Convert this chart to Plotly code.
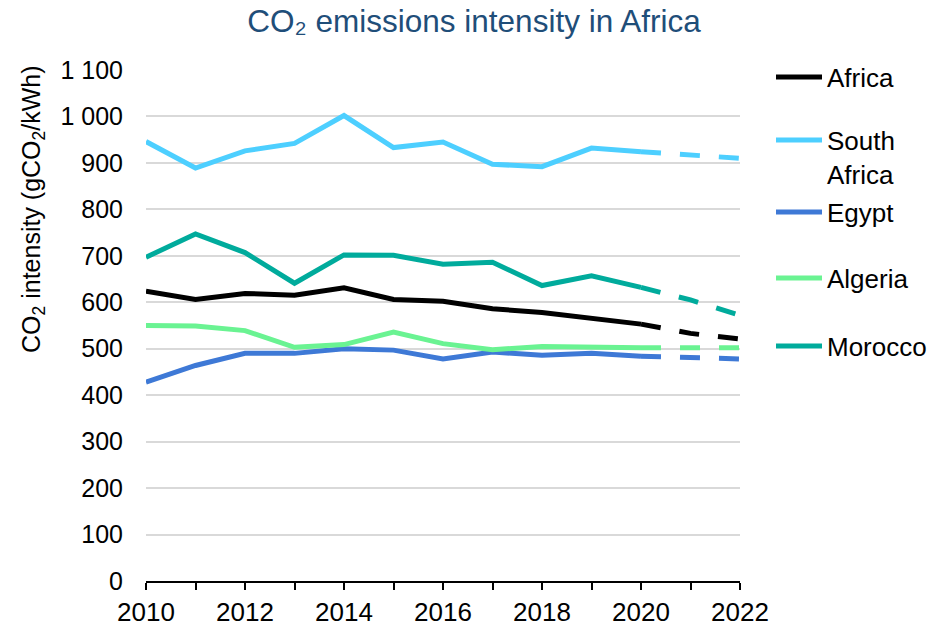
import plotly.graph_objects as go

years_hist = list(range(2010, 2021))
years_proj = [2020, 2021, 2022]
x_tickvals = list(range(2010, 2023))
x_ticktext = ["2010", "", "2012", "", "2014", "", "2016", "", "2018", "", "2020", "", "2022"]

africa = [624, 606, 619, 615, 631, 606, 602, 586, 578, 566, 553]
africa_proj = [553, 533, 521]
south_africa = [946, 889, 926, 942, 1002, 933, 945, 897, 892, 932, 924]
south_africa_proj = [924, 917, 910]
egypt = [428, 464, 490, 490, 500, 497, 478, 493, 486, 490, 484]
egypt_proj = [484, 482, 478]
algeria = [550, 549, 539, 503, 509, 536, 511, 498, 505, 503, 502]
algeria_proj = [502, 502, 502]
morocco = [697, 747, 707, 641, 702, 701, 682, 686, 636, 657, 632]
morocco_proj = [632, 605, 572]

series = [
    ("Africa", africa, africa_proj, "#000000", "legend", 77),
    ("South<br>Africa", south_africa, south_africa_proj, "#4DCFFF", "legend2", 157),
    ("Egypt", egypt, egypt_proj, "#3E79D6", "legend3", 212),
    ("Algeria", algeria, algeria_proj, "#6AF392", "legend4", 278),
    ("Morocco", morocco, morocco_proj, "#00AB9C", "legend5", 346),
]

FONT = "Liberation Sans, Arial, sans-serif"
OFF = 8  # default page body margin
W, H = 946 - 2 * OFF, 627 - OFF
# plot area in page pixels
PX0, PX1, PY0, PY1 = 146, 740, 70, 581
L, R = PX0 - OFF, W - (PX1 - OFF)
T, B = PY0 - OFF, H - (PY1 - OFF)
pw, ph = W - L - R, H - T - B


def px_x(page_x):
    return (page_x - PX0) / pw


def px_y(page_y):
    return (PY1 - page_y) / ph


fig = go.Figure()
layout_legends = {}
for name, hist, proj, color, lg, ycen in series:
    fig.add_trace(go.Scatter(x=years_hist, y=hist, mode="lines", name=name,
                             line=dict(color=color, width=5), legend=lg, showlegend=True))
    fig.add_trace(go.Scatter(x=years_proj, y=proj, mode="lines", name=name,
                             line=dict(color=color, width=5, dash="20px,19px"), showlegend=False))
    layout_legends[lg] = dict(
        x=px_x(771), xanchor="left",
        y=px_y(ycen), yanchor="middle",
        font=dict(family=FONT, size=26, color="#000000"),
        bgcolor="rgba(0,0,0,0)", itemwidth=46, valign="top",
        tracegroupgap=0,
    )

fig.update_layout(
    width=W, height=H,
    margin=dict(l=L, r=R, t=T, b=B, autoexpand=False),
    paper_bgcolor="white", plot_bgcolor="white",
    font=dict(family=FONT, size=25, color="#000000"),
    separators=". ",
    title=dict(text="CO₂ emissions intensity in Africa",
               x=(474 - OFF) / W, xref="container", xanchor="center",
               y=1 - (21 - OFF) / H, yref="container", yanchor="middle",
               font=dict(family=FONT, size=31.5, color="#1F4E79")),
    xaxis=dict(range=[2010, 2022], tickvals=x_tickvals, ticktext=x_ticktext,
               showgrid=False, zeroline=False, showline=True, linecolor="#000000", linewidth=2,
               ticks="outside", ticklen=7, tickwidth=1.5, tickcolor="#000000",
               tickfont=dict(family=FONT, size=26, color="#000000")),
    yaxis=dict(range=[0, 1100], dtick=100, tickformat=",d",
               showgrid=True, gridcolor="#D9D9D9", gridwidth=1.5,
               zeroline=False, showline=False, ticks="", ticklabelstandoff=22,
               tickfont=dict(family=FONT, size=25, color="#000000")),
    annotations=[dict(text="CO<sub>2</sub> intensity (gCO<sub>2</sub>/kWh)",
                      textangle=-90, xref="paper", yref="paper",
                      x=px_x(33), y=px_y(209),
                      xanchor="center", yanchor="middle", showarrow=False,
                      font=dict(family=FONT, size=25, color="#000000"))],
    **layout_legends,
)

fig.write_html("out.html")
